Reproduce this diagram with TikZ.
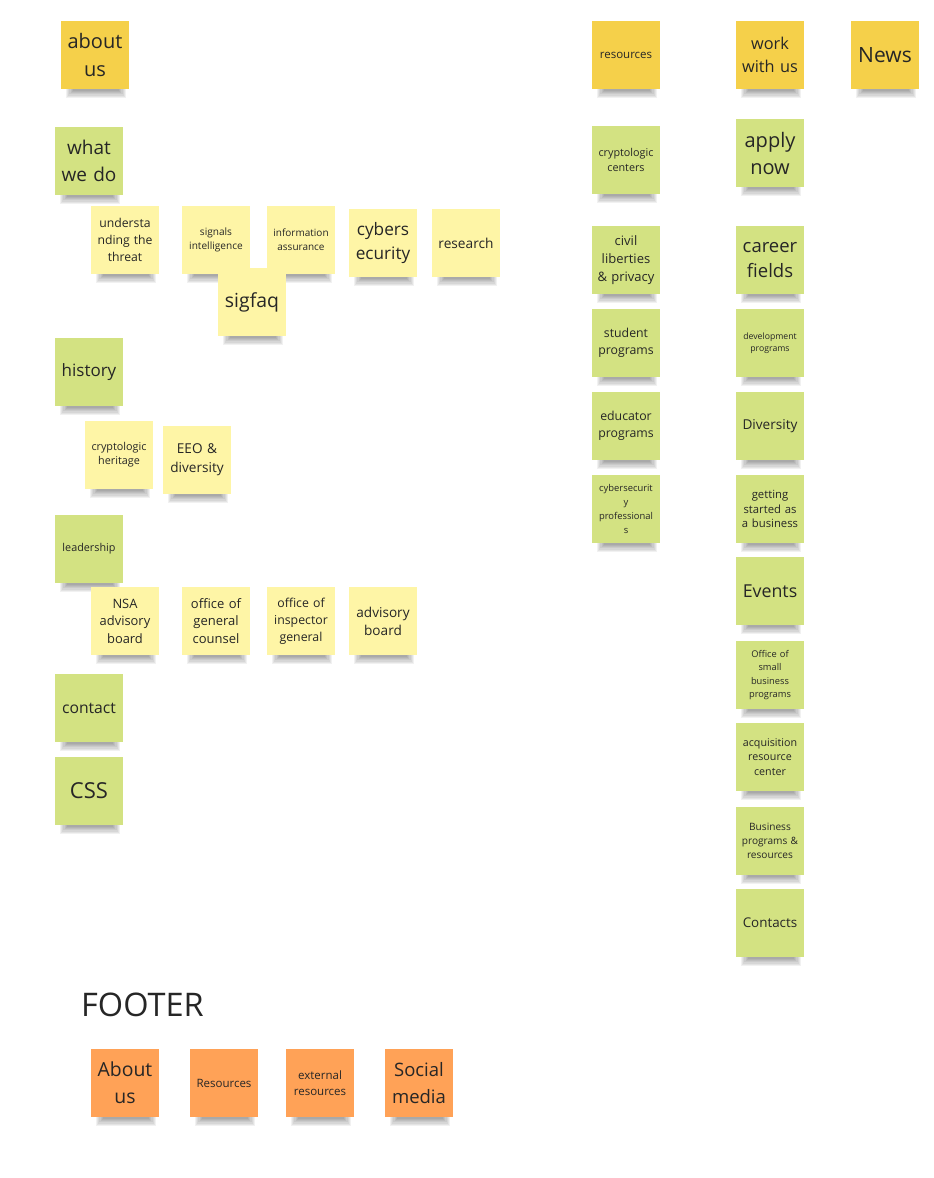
\documentclass[tikz,border=0pt]{standalone}
\usepackage{fontspec}
\setmainfont{Open Sans}
\pgfdeclarelayer{bg}
\pgfdeclarelayer{shade}
\pgfsetlayers{bg,shade,main}
\definecolor{yel}{HTML}{F5D04A}
\definecolor{grn}{HTML}{D3E282}
\definecolor{lyel}{HTML}{FEF5A6}
\definecolor{org}{HTML}{FFA257}
\definecolor{ink}{HTML}{262626}
\tikzset{
  note/.style={minimum width=68pt, minimum height=68pt, inner sep=2pt, text width=64pt,
    align=center, text=ink},
  top/.style={note, fill=yel},
  sub/.style={note, fill=grn},
  leaf/.style={note, fill=lyel},
  foot/.style={note, fill=org},
  shadelayer/.style={black, opacity=0.055}
}
\begin{document}
\begin{tikzpicture}[x=1pt,y=-1pt]
\useasboundingbox (0,0) rectangle (934,1178);
\begin{pgfonlayer}{bg}
\fill[white] (0,0) rectangle (934,1178);
\end{pgfonlayer}
% left column
\node[top, font=\fontsize{20}{27.7}\selectfont] (aboutus) at (95,55) {about\\us};
\node[sub, font=\fontsize{19}{27}\selectfont] (whatwedo) at (89,161) {what\\we do};
\node[leaf, font=\fontsize{12.2}{17}\selectfont] (understanding) at (125,240) {understa\\nding the\\threat};
\node[leaf, font=\fontsize{10.1}{14.3}\selectfont] (signals) at (216,240) {signals\\intelligence};
\node[leaf, font=\fontsize{10}{14.3}\selectfont] (infoassurance) at (301,240) {information\\assurance};
\node[leaf, font=\fontsize{17.2}{24}\selectfont] (cybersecurity) at (383,243) {cybers\\ecurity};
\node[leaf, font=\fontsize{13.7}{19}\selectfont] (research) at (466,243) {research};
\node[leaf, font=\fontsize{19.4}{27}\selectfont] (sigfaq) at (252,302) {sigfaq};
\node[sub, font=\fontsize{17}{24}\selectfont] (history) at (89,372) {history};
\node[leaf, font=\fontsize{10.8}{14.3}\selectfont] (heritage) at (119,455) {cryptologic\\heritage};
\node[leaf, font=\fontsize{13.6}{19}\selectfont] (eeo) at (197,460) {EEO \&\\diversity};
\node[sub, font=\fontsize{10.8}{15}\selectfont] (leadership) at (89,549) {leadership};
\node[leaf, font=\fontsize{12.9}{17.5}\selectfont] (nsaboard) at (125,621) {NSA\\advisory\\board};
\node[leaf, font=\fontsize{13}{17.5}\selectfont] (counsel) at (216,621) {office of\\general\\counsel};
\node[leaf, font=\fontsize{12.3}{17}\selectfont] (inspector) at (301,621) {office of\\inspector\\general};
\node[leaf, font=\fontsize{13.6}{18}\selectfont] (advisory) at (383,621) {advisory\\board};
\node[sub, font=\fontsize{15.7}{22}\selectfont] (contact) at (89,708) {contact};
\node[sub, font=\fontsize{22}{30}\selectfont] (css) at (89,791) {CSS};
% middle column
\node[top, font=\fontsize{11.5}{16}\selectfont] (resources) at (626,55) {resources};
\node[sub, font=\fontsize{10.8}{14.3}\selectfont] (centers) at (626,160) {cryptologic\\centers};
\node[sub, font=\fontsize{13}{18}\selectfont] (civil) at (626,260) {civil\\liberties\\\& privacy};
\node[sub, font=\fontsize{12.3}{17}\selectfont] (student) at (626,343) {student\\programs};
\node[sub, font=\fontsize{12.3}{17}\selectfont] (educator) at (626,426) {educator\\programs};
\node[sub, font=\fontsize{9.4}{13.7}\selectfont] (cyberprof) at (626,509) {cybersecurit\\y\\professional\\s};
% right column
\node[top, font=\fontsize{16.3}{23}\selectfont] (work) at (770,55) {work\\with us};
\node[top, font=\fontsize{21}{28}\selectfont] (news) at (885,55) {News};
\node[sub, font=\fontsize{20}{27}\selectfont] (apply) at (770,153) {apply\\now};
\node[sub, font=\fontsize{18.5}{25}\selectfont] (career) at (770,260) {career\\fields};
\node[sub, font=\fontsize{8.7}{12}\selectfont] (devprog) at (770,343) {development\\programs};
\node[sub, font=\fontsize{13.6}{19}\selectfont] (diversity) at (770,426) {Diversity};
\node[sub, font=\fontsize{11.3}{14.5}\selectfont] (started) at (770,509) {getting\\started as\\a business};
\node[sub, font=\fontsize{17.8}{24}\selectfont] (events) at (770,591) {Events};
\node[sub, font=\fontsize{9.3}{13.3}\selectfont] (osbp) at (770,675) {Office of\\small\\business\\programs};
\node[sub, font=\fontsize{10.7}{14.7}\selectfont] (arc) at (770,757) {acquisition\\resource\\center};
\node[sub, font=\fontsize{10.1}{14.2}\selectfont] (bpr) at (770,841) {Business\\programs \&\\resources};
\node[sub, font=\fontsize{13.4}{19}\selectfont] (contacts) at (770,923) {Contacts};
% footer
\node[anchor=base west, inner sep=0pt, text=ink, font=\fontsize{32.5}{38}\selectfont] (footer) at (81,1016) {FOOTER};
\node[foot, font=\fontsize{19.4}{26.7}\selectfont] (fabout) at (125,1083) {About\\us};
\node[foot, font=\fontsize{11.5}{16}\selectfont] (fresources) at (224,1083) {Resources};
\node[foot, font=\fontsize{11.5}{15.7}\selectfont] (fexternal) at (320,1083) {external\\resources};
\node[foot, font=\fontsize{18.5}{26.7}\selectfont] (fsocial) at (419,1083) {Social\\media};
% soft shadows under the notes
\begin{pgfonlayer}{shade}
\foreach \n in {aboutus,whatwedo,understanding,signals,infoassurance,cybersecurity,research,sigfaq,
  history,heritage,eeo,leadership,nsaboard,counsel,inspector,advisory,contact,css,
  resources,centers,civil,student,educator,cyberprof,
  work,news,apply,career,devprog,diversity,started,events,osbp,arc,bpr,contacts,
  fabout,fresources,fexternal,fsocial}{
  \foreach \k in {0,...,6}{
    \fill[shadelayer] ([xshift={(5+1.2*\k)*1pt}, yshift=2pt]\n.south west)
      rectangle ([xshift={-(3+1.2*\k)*1pt}, yshift={-(8.5-1.1*\k)*1pt}]\n.south east);
  }
}
\end{pgfonlayer}
\end{tikzpicture}
\end{document}
